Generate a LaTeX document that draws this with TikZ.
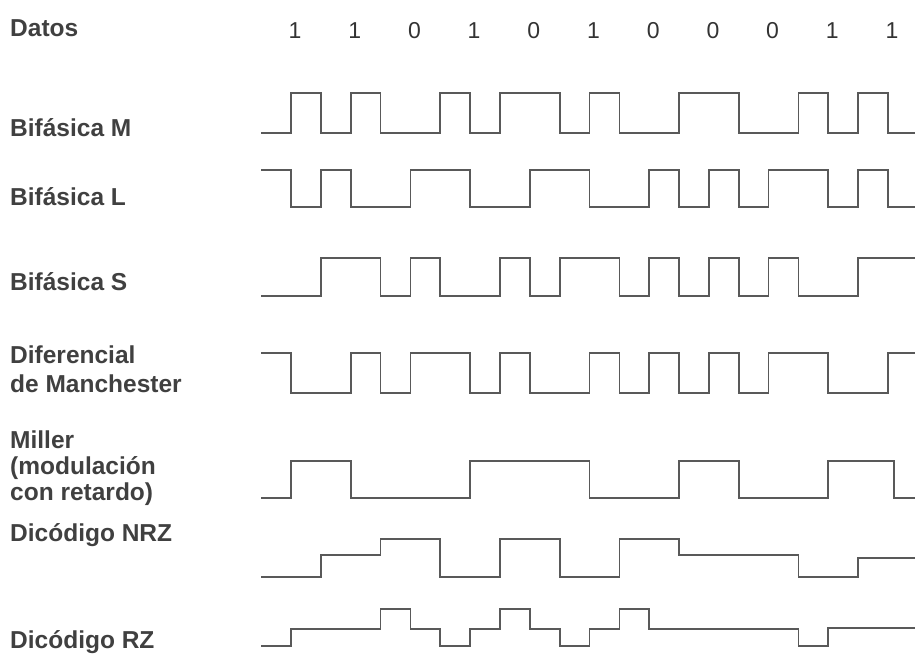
\documentclass[tikz,border=0pt]{standalone}
\usepackage{fontspec}
\setmainfont{Liberation Sans}
\begin{document}
\begin{tikzpicture}[x=1pt,y=-1pt,
  lbl/.style={anchor=base west,inner sep=0pt,text=black!75,
    font=\fontsize{24.5}{30}\selectfont\bfseries},
  bit/.style={anchor=base,inner sep=0pt,text=black!80,font=\fontsize{23}{27}\selectfont},
  wave/.style={draw=black!65,line width=1.7pt,line join=miter}]
\useasboundingbox (0,0) rectangle (915,658);
\clip (0,0) rectangle (915,658);
% labels
\node[lbl] (datos) at (10,36.5) {Datos};
\node[lbl] (bm) at (10,136.5) {Bifásica M};
\node[lbl] (bl) at (10,205.5) {Bifásica L};
\node[lbl] (bs) at (10,290.5) {Bifásica S};
\node[lbl] (dm1) at (10,363) {Diferencial};
\node[lbl] (dm2) at (10,392) {de Manchester};
\node[lbl] (mi1) at (10,448) {Miller};
\node[lbl] (mi2) at (10,474) {(modulación};
\node[lbl] (mi3) at (10,500) {con retardo)};
\node[lbl] (nrz) at (10,541) {Dicódigo NRZ};
\node[lbl] (rz) at (10,648) {Dicódigo RZ};
% data bits
\foreach \b [count=\k from 0] in {1,1,0,1,0,1,0,0,0,1,1}
  \node[bit] (d\k) at ({295+59.7*\k},38.5) {\b};
% waveforms
\begin{scope}[shift={(291,0)},x=29.85pt]
\draw[wave] (-1,133) -| (0,93) -| (1,133) -| (2,93) -| (3,133) -| (5,93) -| (6,133)
  -| (7,93) -| (9,133) -| (10,93) -| (11,133) -| (13,93) -| (15,133) -| (17,93)
  -| (18,133) -| (19,93) -| (20,133) -- (21,133);
\draw[wave] (-1,170) -| (0,207) -| (1,170) -| (2,207) -| (4,170) -| (6,207) -| (8,170)
  -| (10,207) -| (12,170) -| (13,207) -| (14,170) -| (15,207) -| (16,170) -| (18,207)
  -| (19,170) -| (20,207) -- (21,207);
\draw[wave] (-1,296) -| (1,258) -| (3,296) -| (4,258) -| (5,296) -| (7,258) -| (8,296)
  -| (9,258) -| (11,296) -| (12,258) -| (13,296) -| (14,258) -| (15,296) -| (16,258)
  -| (17,296) -| (19,258) -- (21,258);
\draw[wave] (-1,353) -| (0,393) -| (2,353) -| (3,393) -| (4,353) -| (6,393) -| (7,353)
  -| (8,393) -| (10,353) -| (11,393) -| (12,353) -| (13,393) -| (14,353) -| (15,393)
  -| (16,353) -| (18,393) -| (20,353) -- (21,353);
\draw[wave] (-1,498) -| (0,461) -| (2,498) -| (6,461) -| (10,498) -| (13,461)
  -| (15,498) -| (18,461) -| (20.2,498) -- (21,498);
\draw[wave] (-1,577) -| (1,555) -| (3,539) -| (5,577) -| (7,539) -| (9,577)
  -| (11,539) -| (13,555) -| (17,577) -| (19,558) -- (21,558);
\draw[wave] (-1,646) -| (0,629) -| (3,609) -| (4,629) -| (5,646) -| (6,629)
  -| (7,609) -| (8,629) -| (9,646) -| (10,629) -| (11,609) -| (12,629)
  -| (17,646) -| (18,628) -- (21,628);
\end{scope}
\end{tikzpicture}
\end{document}
